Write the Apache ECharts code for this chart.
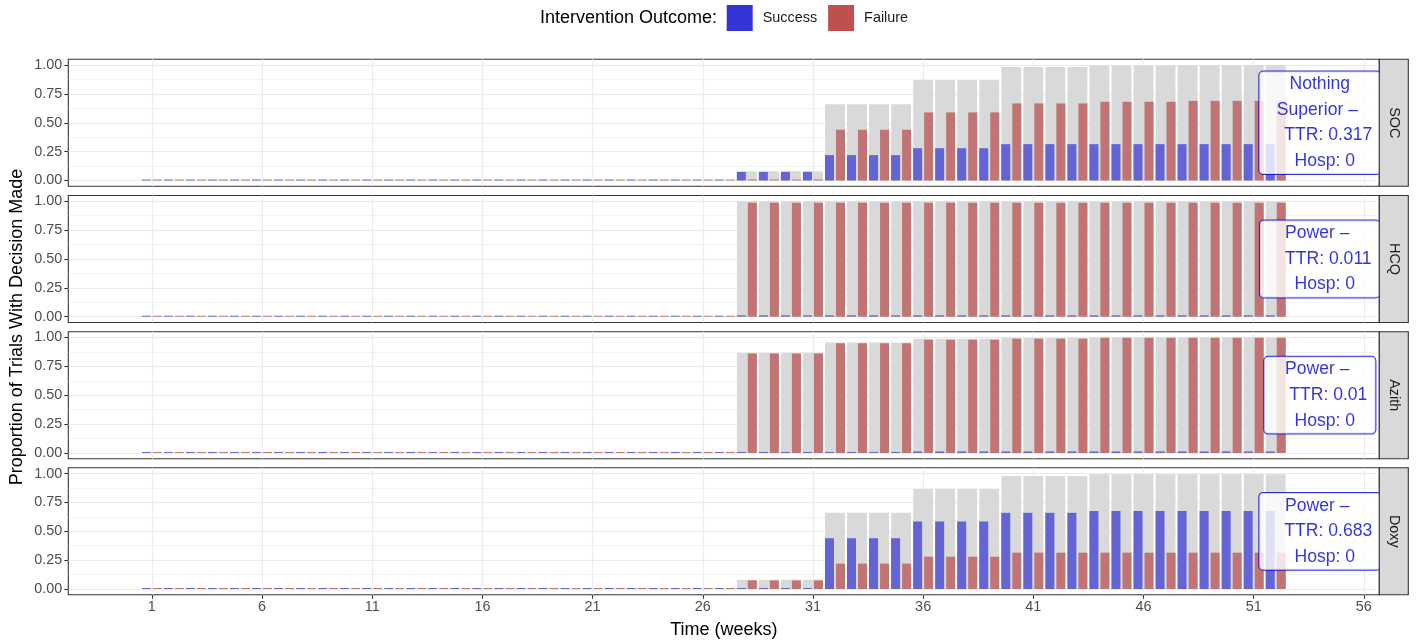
<!DOCTYPE html>
<html><head><meta charset="utf-8">
<script src="https://cdn.jsdelivr.net/npm/echarts@6/dist/echarts.min.js"></script>
<style>html,body{margin:0;padding:0;background:#fff}#c{width:1419px;height:643px}</style>
</head><body><div id="c"></div>
<script>
// ---------- DATA ----------
const weeks = [1,2,3,4,5,6,7,8,9,10,11,12,13,14,15,16,17,18,19,20,21,22,23,24,25,26,27,28,29,30,31,32,33,34,35,36,37,38,39,40,41,42,43,44,45,46,47,48,49,50,51,52];
const panels = ['SOC', 'HCQ', 'Azith', 'Doxy'];
const xTicks = [1, 6, 11, 16, 21, 26, 31, 36, 41, 46, 51, 56];
const yTicks = [0, 0.25, 0.5, 0.75, 1];
const yMinor = [0.125, 0.375, 0.625, 0.875];

const socSuccess = [0,0,0,0,0,0,0,0,0,0,0,0,0,0,0,0,0,0,0,0,0,0,0,0,0,0,0,
  0.075,0.075,0.075,0.075, 0.22,0.22,0.22,0.22, 0.28,0.28,0.28,0.28,
  0.315,0.315,0.315,0.315,0.315,0.315,0.315,0.315,0.315,0.315,0.315,0.315,0.315];
const socFailure = [0,0,0,0,0,0,0,0,0,0,0,0,0,0,0,0,0,0,0,0,0,0,0,0,0,0,0,
  0.005,0.005,0.005,0.005, 0.44,0.44,0.44,0.44, 0.59,0.59,0.59,0.59,
  0.668,0.668,0.668,0.668, 0.682,0.682,0.682,0.682, 0.69,0.69,0.69,0.69,0.69];
const socTotal = [0,0,0,0,0,0,0,0,0,0,0,0,0,0,0,0,0,0,0,0,0,0,0,0,0,0,0,
  0.08,0.08,0.08,0.08, 0.66,0.66,0.66,0.66, 0.87,0.87,0.87,0.87,
  0.983,0.983,0.983,0.983, 0.997,0.997,0.997,0.997, 1,1,1,1,1];

const hcqSuccess = [0,0,0,0,0,0,0,0,0,0,0,0,0,0,0,0,0,0,0,0,0,0,0,0,0,0,0,
  0.012,0.012,0.012,0.012,0.012,0.012,0.012,0.012,0.012,0.012,0.012,0.012,0.012,
  0.012,0.012,0.012,0.012,0.012,0.012,0.012,0.012,0.012,0.012,0.012,0.012,0.012];
const hcqFailure = [0,0,0,0,0,0,0,0,0,0,0,0,0,0,0,0,0,0,0,0,0,0,0,0,0,0,0,
  0.988,0.988,0.988,0.988,0.988,0.988,0.988,0.988,0.988,0.988,0.988,0.988,0.988,
  0.988,0.988,0.988,0.988,0.988,0.988,0.988,0.988,0.988,0.988,0.988,0.988,0.988];
const hcqTotal = [0,0,0,0,0,0,0,0,0,0,0,0,0,0,0,0,0,0,0,0,0,0,0,0,0,0,0,
  1,1,1,1,1,1,1,1,1,1,1,1,1,1,1,1,1,1,1,1,1,1,1,1,1,1];

const azithSuccess = [0,0,0,0,0,0,0,0,0,0,0,0,0,0,0,0,0,0,0,0,0,0,0,0,0,0,0,
  0.006,0.006,0.006,0.006,0.006,0.006,0.006,0.006,
  0.013,0.013,0.013,0.013,0.013,0.013,0.013,0.013,0.013,0.013,0.013,0.013,0.013,0.013,0.013,0.013,0.013];
const azithFailure = [0,0,0,0,0,0,0,0,0,0,0,0,0,0,0,0,0,0,0,0,0,0,0,0,0,0,0,
  0.862,0.862,0.862,0.862, 0.95,0.95,0.95,0.95, 0.981,0.981,0.981,0.981,
  0.99,0.99,0.99,0.99, 0.997,0.997,0.997,0.997,0.997,0.997,0.997,0.997,0.997];
const azithTotal = [0,0,0,0,0,0,0,0,0,0,0,0,0,0,0,0,0,0,0,0,0,0,0,0,0,0,0,
  0.868,0.868,0.868,0.868, 0.956,0.956,0.956,0.956, 0.99,0.99,0.99,0.99,
  0.998,0.998,0.998,0.998, 1,1,1,1,1,1,1,1,1];

const doxySuccess = [0,0,0,0,0,0,0,0,0,0,0,0,0,0,0,0,0,0,0,0,0,0,0,0,0,0,0,
  0.005,0.005,0.005,0.005, 0.44,0.44,0.44,0.44, 0.585,0.585,0.585,0.585,
  0.66,0.66,0.66,0.66, 0.676,0.676,0.676,0.676,0.676,0.676,0.676,0.676,0.676];
const doxyFailure = [0,0,0,0,0,0,0,0,0,0,0,0,0,0,0,0,0,0,0,0,0,0,0,0,0,0,0,
  0.075,0.075,0.075,0.075, 0.22,0.22,0.22,0.22, 0.28,0.28,0.28,0.28,
  0.315,0.315,0.315,0.315,0.315,0.315,0.315,0.315,0.315,0.315,0.315,0.315,0.315];
const doxyTotal = [0,0,0,0,0,0,0,0,0,0,0,0,0,0,0,0,0,0,0,0,0,0,0,0,0,0,0,
  0.08,0.08,0.08,0.08, 0.66,0.66,0.66,0.66, 0.867,0.867,0.867,0.867,
  0.98,0.98,0.98,0.98, 0.995,0.995,0.995,0.995,0.995,0.995,0.995,0.995,0.995];

// annotation boxes
const decisionText = ['Nothing\nSuperior \u2013', 'Power \u2013', 'Power \u2013', 'Power \u2013'];
const ttrText = ['0.317', '0.011', '0.01', '0.683'];
const hospText = ['0', '0', '0', '0'];
const labelX = [54, 54, 54, 54];
const labelY = [0.5, 0.5, 0.5, 0.5];

const successData = [socSuccess, hcqSuccess, azithSuccess, doxySuccess];
const failureData = [socFailure, hcqFailure, azithFailure, doxyFailure];
const totalData = [socTotal, hcqTotal, azithTotal, doxyTotal];

// ---------- LAYOUT / STYLE ----------
const FONT = '"Liberation Sans", Arial, Helvetica, sans-serif';
const GRID_LEFT = 68.3, GRID_RIGHT_EDGE = 1379.3, GRID_H = 127;
const GRID_TOPS = [59.3, 195.5, 331.7, 467.8];
const X_MIN = -2.79, X_MAX = 56.7;
const Y_MIN = -0.05, Y_MAX = 1.05;
const COL_SUCCESS = '#6464d4', COL_FAILURE = '#c27474', COL_TOTAL = '#d9d9d9';
const KEY_SUCCESS = '#3434d5', KEY_FAILURE = '#c05050';
const LBL_COL = '#0000cd';
const GRIDLINE = '#ebebeb';

const grids = [], xAxes = [], yAxes = [], series = [], graphics = [];
panels.forEach((name, p) => {
  const top = GRID_TOPS[p];
  const bottom = p === panels.length - 1;
  grids.push({left: GRID_LEFT, top: top, width: GRID_RIGHT_EDGE - GRID_LEFT, height: GRID_H,
    show: true, borderColor: '#333333', borderWidth: 1.1, backgroundColor: '#ffffff', containLabel: false});
  // main x axis (grid lines, ticks)
  xAxes.push({gridIndex: p, type: 'value', min: X_MIN, max: X_MAX, position: 'bottom',
    axisLine: {show: false, onZero: false},
    axisTick: {show: bottom, customValues: xTicks, length: 4, lineStyle: {color: '#333333', width: 1.1}},
    axisLabel: {show: bottom, customValues: xTicks, margin: 5, color: '#4d4d4d', fontSize: 14.4, fontFamily: FONT},
    splitLine: {show: true, lineStyle: {color: GRIDLINE, width: 1.1}}
  });
  // overlay x axis for the dodged success/failure bars
  xAxes.push({gridIndex: p, type: 'value', min: X_MIN, max: X_MAX, show: false, axisLine: {onZero: false}});
  // major y axis
  yAxes.push({gridIndex: p, type: 'value', min: Y_MIN, max: Y_MAX, position: 'left',
    axisLine: {show: false, onZero: false},
    axisTick: {show: true, customValues: yTicks, length: 4, lineStyle: {color: '#333333', width: 1.1}},
    axisLabel: {show: true, customValues: yTicks, margin: 6, color: '#4d4d4d', fontSize: 14.4, fontFamily: FONT,
      formatter: v => Number(v).toFixed(2)},
    splitLine: {show: true, lineStyle: {color: GRIDLINE, width: 1.1}}
  });
  // minor y grid lines
  yAxes.push({gridIndex: p, type: 'value', min: Y_MIN, max: Y_MAX, position: 'left',
    axisLine: {show: false, onZero: false},
    axisTick: {show: false, customValues: yMinor},
    axisLabel: {show: false, customValues: yMinor},
    splitLine: {show: true, lineStyle: {color: GRIDLINE, width: 0.6}}
  });

  series.push({type: 'bar', name: 'Decision', xAxisIndex: 2 * p, yAxisIndex: 2 * p,
    data: weeks.map((w, i) => [w, totalData[p][i]]), barWidth: '90%',
    itemStyle: {color: COL_TOTAL}, silent: true, z: 2});
  series.push({type: 'bar', name: 'Success', xAxisIndex: 2 * p + 1, yAxisIndex: 2 * p,
    data: weeks.map((w, i) => [w, successData[p][i]]), barWidth: '41%', barGap: '22%', barMinHeight: 1,
    itemStyle: {color: COL_SUCCESS}, silent: true, z: 3});
  series.push({type: 'bar', name: 'Failure', xAxisIndex: 2 * p + 1, yAxisIndex: 2 * p,
    data: weeks.map((w, i) => [w, failureData[p][i]]), barWidth: '41%', barGap: '22%', barMinHeight: 1,
    itemStyle: {color: COL_FAILURE}, silent: true, z: 3});

  const dLines = decisionText[p].split('\n');
  const fmt = dLines.map((l, k) => '{d|' + l + (k === dLines.length - 1 ? ' ' : '') + '}').join('\n')
    + '\n{t|TTR: ' + ttrText[p] + '}\n{h|Hosp: ' + hospText[p] + '}';
  const base = {color: LBL_COL, fontSize: 17.6, lineHeight: 25.6, fontFamily: FONT};
  series.push({type: 'scatter', name: 'label' + p, xAxisIndex: 2 * p, yAxisIndex: 2 * p,
    data: [[labelX[p], labelY[p]]], symbolSize: 0, silent: true, z: 10,
    label: {show: true, position: 'inside', formatter: fmt, align: 'center', verticalAlign: 'middle',
      backgroundColor: '#ffffff', borderColor: LBL_COL, borderWidth: 1, borderRadius: 4, padding: [0, 8],
      color: LBL_COL, fontSize: 17.6, lineHeight: 25.6, fontFamily: FONT,
      rich: {
        d: Object.assign({}, base),
        t: Object.assign({padding: [0, 0, 0, 17]}, base),
        h: Object.assign({padding: [0, 0, 0, 10]}, base)
      }}
  });

  // facet strip on the right
  graphics.push({type: 'rect', z: 100, shape: {x: GRID_RIGHT_EDGE, y: top, width: 29, height: GRID_H},
    style: {fill: '#d9d9d9', stroke: '#333333', lineWidth: 1.1}});
  graphics.push({type: 'text', z: 101, x: GRID_RIGHT_EDGE + 14.5, y: top + GRID_H / 2, rotation: -Math.PI / 2,
    style: {text: name, fill: '#1a1a1a', font: '14.4px ' + FONT, align: 'center', verticalAlign: 'middle'}});
});

graphics.push({type: 'text', z: 50, x: 17, y: (GRID_TOPS[0] + GRID_TOPS[3] + GRID_H) / 2, rotation: Math.PI / 2,
  style: {text: 'Proportion of Trials With Decision Made', fill: '#000000', font: '18px ' + FONT, align: 'center', verticalAlign: 'middle'}});
graphics.push({type: 'text', z: 50, x: (GRID_LEFT + GRID_RIGHT_EDGE) / 2, y: 630,
  style: {text: 'Time (weeks)', fill: '#000000', font: '18px ' + FONT, align: 'center', verticalAlign: 'middle'}});
graphics.push({type: 'text', z: 50, x: 540, y: 18,
  style: {text: 'Intervention Outcome:', fill: '#000000', font: '18px ' + FONT, align: 'left', verticalAlign: 'middle'}});

const chart = echarts.init(document.getElementById('c'), null, {renderer: 'canvas'});
chart.setOption({
  animation: false,
  backgroundColor: '#ffffff',
  textStyle: {fontFamily: FONT},
  grid: grids,
  xAxis: xAxes,
  yAxis: yAxes,
  legend: {
    left: 726.7, top: 5, padding: 0, itemWidth: 26, itemHeight: 26, itemGap: 11, icon: 'rect',
    selectedMode: false,
    textStyle: {fontSize: 14.4, color: '#1a1a1a', fontFamily: FONT, padding: [0, 0, 0, 5]},
    data: [{name: 'Success', itemStyle: {color: KEY_SUCCESS}}, {name: 'Failure', itemStyle: {color: KEY_FAILURE}}]
  },
  series: series,
  graphic: graphics
});
</script>
</body></html>
